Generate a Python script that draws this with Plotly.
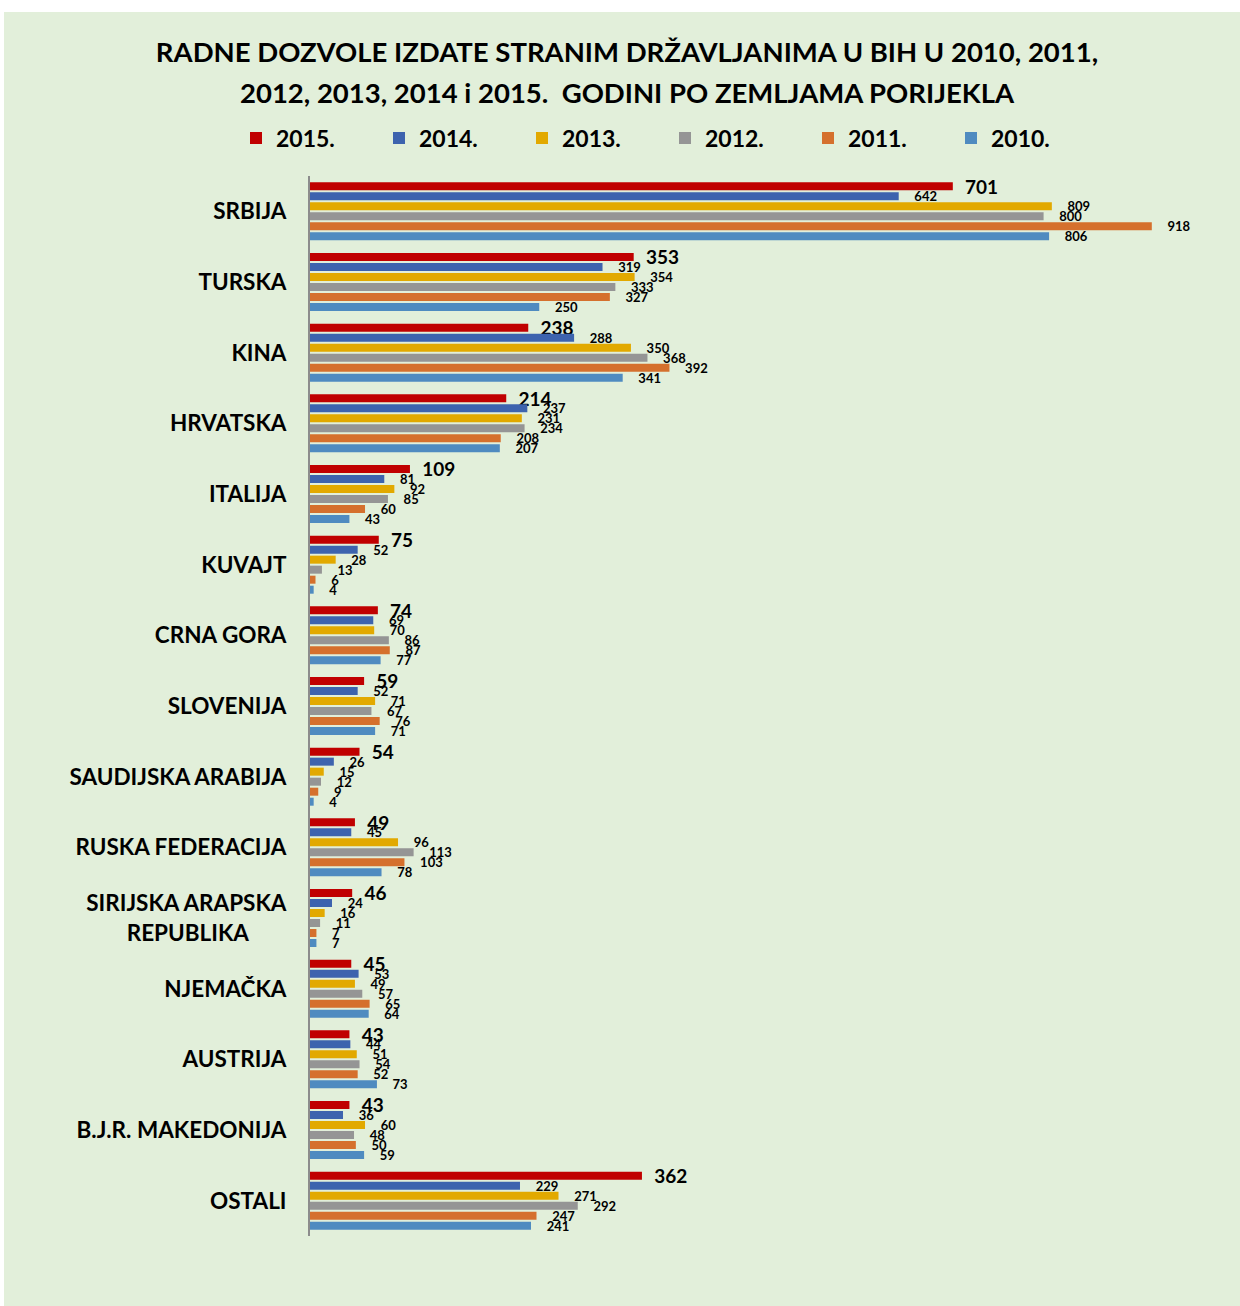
import plotly.graph_objects as go

categories = ["SRBIJA", "TURSKA", "KINA", "HRVATSKA", "ITALIJA", "KUVAJT", "CRNA GORA",
              "SLOVENIJA", "SAUDIJSKA ARABIJA", "RUSKA FEDERACIJA",
              "SIRIJSKA ARAPSKA<br>REPUBLIKA" + "\u00a0" * 7,
              "NJEMAČKA", "AUSTRIJA", "B.J.R. MAKEDONIJA", "OSTALI"]

years = ["2015.", "2014.", "2013.", "2012.", "2011.", "2010."]

v2015 = [701, 353, 238, 214, 109, 75, 74, 59, 54, 49, 46, 45, 43, 43, 362]
v2014 = [642, 319, 288, 237, 81, 52, 69, 52, 26, 45, 24, 53, 44, 36, 229]
v2013 = [809, 354, 350, 231, 92, 28, 70, 71, 15, 96, 16, 49, 51, 60, 271]
v2012 = [800, 333, 368, 234, 85, 13, 86, 67, 12, 113, 11, 57, 54, 48, 292]
v2011 = [918, 327, 392, 208, 60, 6, 87, 76, 9, 103, 7, 65, 52, 50, 247]
v2010 = [806, 250, 341, 207, 43, 4, 77, 71, 4, 78, 7, 64, 73, 59, 241]

series = [v2015, v2014, v2013, v2012, v2011, v2010]
colors = ["#C00000", "#3D63AE", "#E2A900", "#959595", "#D5702D", "#4F8BC0"]

title_line1 = "RADNE DOZVOLE IZDATE STRANIM DRŽAVLJANIMA U BIH U 2010, 2011,"
title_line2 = "2012, 2013, 2014 i 2015.  GODINI PO ZEMLJAMA PORIJEKLA"

FONT = "Lato"
W, H = 1240, 1306
ML, MR, MT, MB = 310, 40, 176, 70
PW = W - ML - MR
PH = H - MT - MB

fig = go.Figure()
for i, (name, vals, col) in enumerate(zip(years, series, colors)):
    pad = "\u00a0" * 2 if i == 0 else "\u00a0" * 4
    fig.add_trace(go.Bar(
        y=categories, x=vals, name=name, orientation="h",
        marker=dict(color=col, line=dict(width=0)),
        text=[pad + str(v) for v in vals], textposition="outside",
        textangle=0, constraintext="none", cliponaxis=False,
        textfont=dict(family=FONT, size=19 if i == 0 else 13, color="black", weight="bold"),
    ))

def px_x(px):
    return (px - ML) / PW

def px_y(py):
    return (H - MB - py) / PH

fig.add_shape(type="rect", xref="paper", yref="paper",
              x0=px_x(4), x1=px_x(1240), y0=px_y(1306), y1=px_y(12),
              fillcolor="#E2EFDA", line=dict(width=0), layer="below")

fig.add_annotation(text=title_line2, xref="paper", yref="paper",
                   x=px_x(627), y=px_y(92), xanchor="center", yanchor="middle",
                   showarrow=False,
                   font=dict(family=FONT, size=27.5, color="black", weight="bold"))

fig.update_layout(
    width=W, height=H,
    margin=dict(l=ML, r=MR, t=MT, b=MB),
    paper_bgcolor="white", plot_bgcolor="rgba(0,0,0,0)",
    barmode="group", bargap=0.15, bargroupgap=0.2,
    font=dict(family=FONT, color="black"),
    title=dict(text=title_line1,
               x=627 / W, xref="container", xanchor="center",
               y=1 - 52 / H, yref="container", yanchor="middle",
               font=dict(family=FONT, size=27.5, color="black", weight="bold")),
    legend=dict(orientation="h", x=px_x(236), xanchor="left", y=px_y(138), yanchor="middle",
                font=dict(family=FONT, size=23, color="black", weight="bold"),
                entrywidth=98, entrywidthmode="pixels", traceorder="normal",
                bgcolor="rgba(0,0,0,0)"),
    xaxis=dict(range=[0, PW / 0.917], showgrid=False, zeroline=False, showticklabels=False,
               showline=False, fixedrange=True),
    yaxis=dict(autorange="reversed", showline=True, linecolor="#8C8C8C", linewidth=2,
               ticks="", ticklabelstandoff=17, showgrid=False,
               tickfont=dict(family=FONT, size=22.5, color="black", weight="bold")),
    showlegend=True,
)

fig.write_html("out.html", config={"displayModeBar": False},
               post_script="document.body.style.margin='0';")
